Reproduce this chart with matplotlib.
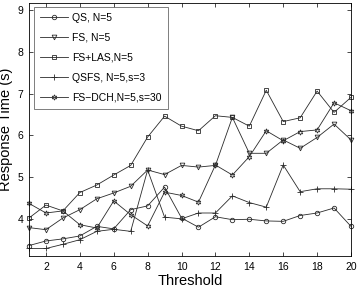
import matplotlib
matplotlib.use("Agg")
import matplotlib.pyplot as plt

plt.rcParams['font.family'] = ['Liberation Sans', 'DejaVu Sans']

thresholds = list(range(1, 21))
qs = [3.36, 3.47, 3.52, 3.59, 3.82, 3.76, 4.22, 4.31, 4.76, 4.02,
      3.80, 4.05, 3.98, 3.99, 3.95, 3.94, 4.08, 4.14, 4.26, 3.82]
fs = [3.79, 3.74, 4.02, 4.22, 4.48, 4.62, 4.78, 5.17, 5.06, 5.28,
      5.24, 5.28, 6.43, 5.57, 5.57, 5.89, 5.69, 5.95, 6.27, 5.89]
fs_las = [4.02, 4.33, 4.19, 4.63, 4.81, 5.05, 5.28, 5.96, 6.46, 6.22,
          6.11, 6.47, 6.43, 6.22, 7.08, 6.33, 6.42, 7.06, 6.55, 6.91]
qsfs = [3.29, 3.29, 3.39, 3.50, 3.70, 3.75, 3.70, 5.17, 4.04, 4.00,
        4.14, 4.14, 4.55, 4.39, 4.28, 5.29, 4.65, 4.72, 4.72, 4.71]
fs_dch = [4.37, 4.14, 4.19, 3.86, 3.78, 4.43, 4.10, 3.83, 4.64, 4.56,
          4.40, 5.29, 5.05, 5.49, 6.11, 5.87, 6.09, 6.13, 6.78, 6.59]
labels = ['QS, N=5', 'FS, N=5', 'FS+LAS,N=5', 'QSFS, N=5,s=3', 'FS\u2212DCH,N=5,s=30']
xticks = list(range(2, 21, 2))
yticks = [4, 5, 6, 7, 8, 9]

series = [qs, fs, fs_las, qsfs, fs_dch]
markers = ['o', 'v', 's', '+', (6, 1, 0)]
msizes = [3.2, 3.4, 2.9, 4.2, 3.8]

fig = plt.figure(figsize=(3.6, 2.87), dpi=100)
ax = fig.add_axes([29/360, 1-256/287, (351-29)/360, (256-3)/287])

for ys, m, ms, lab in zip(series, markers, msizes, labels):
    ax.plot(thresholds, ys, color='#2a2a2a', lw=0.6, marker=m, ms=ms,
            mfc='none', mec='#2a2a2a', mew=0.6, label=lab, clip_on=False)

ax.set_xlim(1, 20)
ax.set_ylim(3.11, 9.17)
ax.set_xticks(xticks)
ax.set_yticks(yticks)
ax.tick_params(direction='in', top=True, right=True, length=3, width=0.5,
               labelsize=7.5, pad=4)
for sp in ax.spines.values():
    sp.set_linewidth(0.6)
ax.set_xlabel('Threshold', fontsize=10.5, labelpad=2)
ax.set_ylabel('Response Time (s)', fontsize=10.5, labelpad=3)

leg = ax.legend(loc='upper left', bbox_to_anchor=(0.015, 0.985), borderaxespad=0,
                fontsize=7.5, frameon=True, fancybox=False, edgecolor='#444444',
                handlelength=2.7, labelspacing=0.95, handletextpad=0.4,
                borderpad=0.6)
leg.get_frame().set_linewidth(0.6)

fig.savefig('out.png', dpi=100)
